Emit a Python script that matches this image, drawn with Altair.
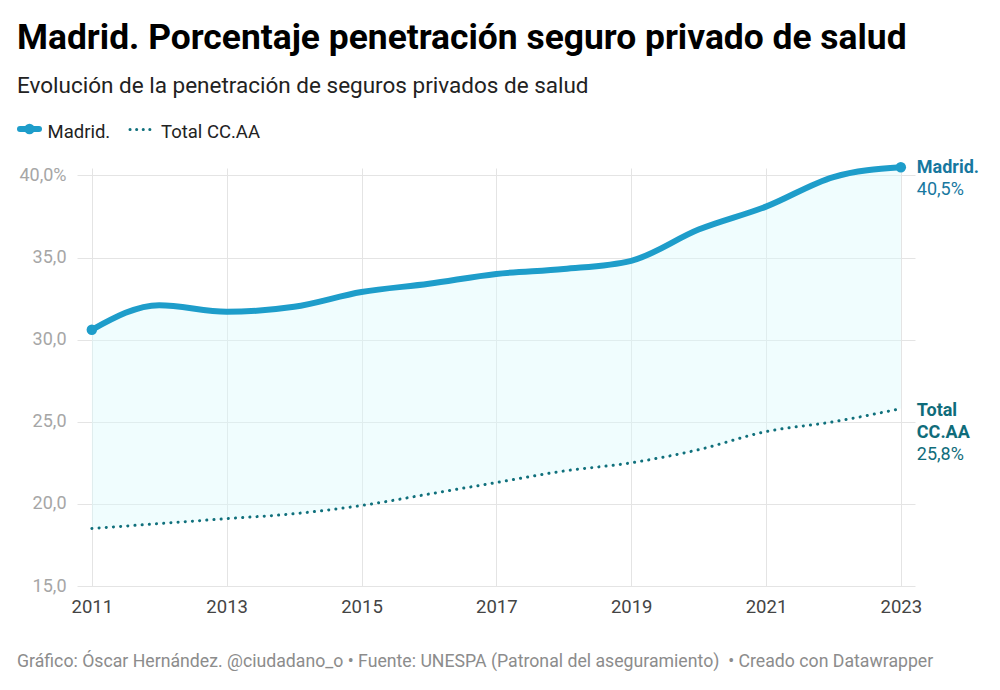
import altair as alt
import pandas as pd

# ---- data ----
years = [2011, 2012, 2013, 2014, 2015, 2016, 2017, 2018, 2019, 2020, 2021, 2022, 2023]
madrid = [30.6, 32.1, 31.7, 32.0, 32.9, 33.4, 34.0, 34.3, 34.8, 36.7, 38.1, 39.9, 40.5]
total = [18.5, 18.8, 19.1, 19.4, 19.9, 20.6, 21.3, 22.0, 22.5, 23.3, 24.4, 25.0, 25.8]

x_ticks = [2011, 2013, 2015, 2017, 2019, 2021, 2023]
y_ticks = [15, 20, 25, 30, 35, 40]

title_text = ["Madrid. Porcentaje penetración seguro privado de salud"]
subtitle_text = ["Evolución de la penetración de seguros privados de salud"]
legend_names = ["Madrid.", "Total CC.AA"]
footer_text = ["Gráfico: Óscar Hernández. @ciudadano_o • Fuente: UNESPA (Patronal del aseguramiento)\u00a0 • Creado con Datawrapper"]

madrid_label = ["Madrid."]
madrid_value_label = ["40,5%"]
total_label_lines = ["Total", "CC.AA"]
total_value_label = ["25,8%"]

FONT = "Roboto"
C_MADRID = "#1e9dca"
C_MADRID_TXT = "#17789f"
C_TOTAL = "#10707c"
C_TOTAL_TXT = "#0f6c7a"

df = pd.DataFrame({"year": years, "madrid": madrid, "total": total})

xscale = alt.Scale(domain=[2010.78, 2023.21], nice=False, zero=False)
yscale = alt.Scale(domain=[15, 40.45], nice=False, zero=False)

xaxis = alt.Axis(values=x_ticks, format="d", grid=True, gridColor="#e4e4e4", domain=False,
                 ticks=False, labelFont=FONT, labelFontSize=18.5, labelColor="#444444",
                 labelPadding=11, title=None, labelFlush=False)
yaxis = alt.Axis(values=y_ticks, grid=True, gridColor="#e4e4e4", domain=False, ticks=False,
                 labelFont=FONT, labelFontSize=18, labelColor="#a6a6a6", labelPadding=11,
                 title=None,
                 labelExpr="datum.value == 40 ? '40,0%' : replace(format(datum.value, '.1f'), '.', ',')")

base = alt.Chart(df)
X = alt.X("year:Q", scale=xscale, axis=xaxis)

area = base.mark_area(color="#d9fbfd", opacity=0.4, interpolate="monotone").encode(
    x=X, y=alt.Y("madrid:Q", scale=yscale, axis=yaxis), y2="total:Q")

madrid_line = base.mark_line(color=C_MADRID, strokeWidth=6, interpolate="monotone",
                             strokeCap="round", strokeJoin="round").encode(
    x=alt.X("year:Q", scale=xscale), y=alt.Y("madrid:Q", scale=yscale))

total_line = base.mark_line(color=C_TOTAL, strokeWidth=3, interpolate="monotone",
                            strokeCap="round", strokeDash=[0.1, 7.1]).encode(
    x=alt.X("year:Q", scale=xscale), y=alt.Y("total:Q", scale=yscale))

ends = base.transform_filter("datum.year == 2011 || datum.year == 2023").mark_circle(
    color=C_MADRID, size=110, opacity=1).encode(
    x=alt.X("year:Q", scale=xscale), y=alt.Y("madrid:Q", scale=yscale))

last = base.transform_filter("datum.year == 2023")

lab_m1 = last.transform_calculate(t=f"'{madrid_label[0]}'").mark_text(
    font=FONT, fontSize=18, fontWeight="bold", color=C_MADRID_TXT, align="left",
    baseline="alphabetic", dx=16, dy=6).encode(
    x=alt.X("year:Q", scale=xscale), y=alt.Y("madrid:Q", scale=yscale), text="t:N")
lab_m2 = last.transform_calculate(t=f"'{madrid_value_label[0]}'").mark_text(
    font=FONT, fontSize=18, color=C_MADRID_TXT, align="left",
    baseline="alphabetic", dx=16, dy=28).encode(
    x=alt.X("year:Q", scale=xscale), y=alt.Y("madrid:Q", scale=yscale), text="t:N")
lab_t1 = last.transform_calculate(t=f"'{total_label_lines[0]}'").mark_text(
    font=FONT, fontSize=18, fontWeight="bold", color=C_TOTAL_TXT, align="left",
    baseline="alphabetic", dx=16, dy=7).encode(
    x=alt.X("year:Q", scale=xscale), y=alt.Y("total:Q", scale=yscale), text="t:N")
lab_t2 = last.transform_calculate(t=f"'{total_label_lines[1]}'").mark_text(
    font=FONT, fontSize=18, fontWeight="bold", color=C_TOTAL_TXT, align="left",
    baseline="alphabetic", dx=16, dy=29.5).encode(
    x=alt.X("year:Q", scale=xscale), y=alt.Y("total:Q", scale=yscale), text="t:N")
lab_t3 = last.transform_calculate(t=f"'{total_value_label[0]}'").mark_text(
    font=FONT, fontSize=18, color=C_TOTAL_TXT, align="left",
    baseline="alphabetic", dx=16, dy=51.5).encode(
    x=alt.X("year:Q", scale=xscale), y=alt.Y("total:Q", scale=yscale), text="t:N")


def free_text(txt, x, y, size, color, weight="normal"):
    return alt.Chart(pd.DataFrame({"t": txt})).mark_text(
        font=FONT, fontSize=size, fontWeight=weight, color=color, align="left",
        baseline="alphabetic").encode(x=alt.value(x), y=alt.value(y), text="t:N")


title = free_text(title_text, -60, -119, 35.4, "#000000", "bold")
subtitle = free_text(subtitle_text, -60, -75.5, 22.5, "#222222")
footer = free_text(footer_text, -60, 499, 17.7, "#8c8c8c")

leg_df = pd.DataFrame({"t": legend_names})
leg_madrid_line = alt.Chart(leg_df.iloc[:1]).mark_rule(
    color=C_MADRID, strokeWidth=6, strokeCap="round").encode(
    x=alt.value(-57), x2=alt.value(-38), y=alt.value(-39))
leg_madrid_dot = alt.Chart(leg_df.iloc[:1]).mark_circle(
    color=C_MADRID, size=110, opacity=1).encode(x=alt.value(-47.5), y=alt.value(-39))
leg_total_line = alt.Chart(leg_df.iloc[1:]).mark_rule(
    color=C_TOTAL, strokeWidth=3, strokeCap="round", strokeDash=[0.1, 6.5]).encode(
    x=alt.value(53), x2=alt.value(78), y=alt.value(-38.5))
leg_text1 = alt.Chart(leg_df.iloc[:1]).mark_text(
    font=FONT, fontSize=18.5, color="#222222", align="left", baseline="alphabetic").encode(
    x=alt.value(-29.5), y=alt.value(-30), text="t:N")
leg_text2 = alt.Chart(leg_df.iloc[1:]).mark_text(
    font=FONT, fontSize=18.5, color="#222222", align="left", baseline="alphabetic").encode(
    x=alt.value(84), y=alt.value(-30), text="t:N")

chart = alt.layer(
    area, total_line, madrid_line, ends,
    lab_m1, lab_m2, lab_t1, lab_t2, lab_t3,
    title, subtitle, footer,
    leg_madrid_line, leg_madrid_dot, leg_total_line, leg_text1, leg_text2,
).properties(
    width=838, height=418,
    autosize=alt.AutoSizeParams(type="none"),
    padding={"left": 69, "top": 160, "right": 77, "bottom": 96},
    background="#ffffff",
).configure_view(stroke=None)

chart.save("out.html", embed_options={"renderer": "svg", "actions": False})
